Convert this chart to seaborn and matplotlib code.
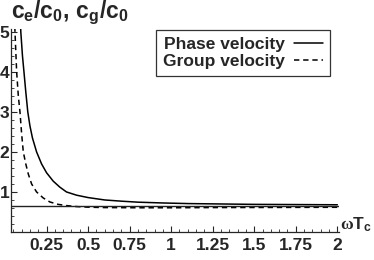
import numpy as np
import pandas as pd
import matplotlib
matplotlib.use('Agg')
import matplotlib.pyplot as plt
from matplotlib.ticker import MultipleLocator
from matplotlib.lines import Line2D
import seaborn as sns

# values
phase_w = [0.085, 0.095, 0.105, 0.114, 0.125, 0.137, 0.15, 0.165, 0.19, 0.22, 0.25, 0.29,
           0.33, 0.37, 0.43, 0.5, 0.6, 0.7, 0.8, 0.95, 1.1, 1.3, 1.5, 1.75, 2.0]
phase_v = [6.2, 5.0, 4.4, 4.0, 3.5, 3.0, 2.65, 2.35, 2.0, 1.7, 1.48, 1.27,
           1.12, 1.0, 0.92, 0.86, 0.8, 0.77, 0.745, 0.725, 0.71, 0.70, 0.69, 0.685, 0.68]
group_w = [0.052, 0.06, 0.07, 0.08, 0.09, 0.1, 0.11, 0.125, 0.14, 0.16, 0.19, 0.23,
           0.27, 0.32, 0.37, 0.43, 0.5, 0.6, 0.8, 1.0, 1.25, 1.5, 1.75, 2.0]
group_v = [6.2, 5.0, 4.0, 3.4, 3.0, 2.45, 2.0, 1.7, 1.45, 1.2, 1.0, 0.85,
           0.75, 0.69, 0.66, 0.635, 0.62, 0.61, 0.605, 0.605, 0.61, 0.612, 0.615, 0.617]
asymptote = 0.66
x_ticks = [0.25, 0.5, 0.75, 1, 1.25, 1.5, 1.75, 2]
x_tick_labels = ['0.25', '0.5', '0.75', '1', '1.25', '1.5', '1.75', '2']
y_ticks = [1, 2, 3, 4, 5]

df = pd.concat([
    pd.DataFrame({'w': phase_w, 'v': phase_v, 'kind': 'Phase velocity'}),
    pd.DataFrame({'w': group_w, 'v': group_v, 'kind': 'Group velocity'}),
])

sns.set_style('ticks')
plt.rcParams['font.family'] = ['Liberation Sans', 'DejaVu Sans']
plt.rcParams['font.weight'] = 'bold'
plt.rcParams['mathtext.fontset'] = 'custom'
plt.rcParams['mathtext.bf'] = 'Liberation Sans:bold'
plt.rcParams['mathtext.rm'] = 'Liberation Serif'
plt.rcParams['mathtext.it'] = 'Liberation Serif'

fig = plt.figure(figsize=(3.74, 2.60), dpi=100)
ax = fig.add_axes([11 / 374, 28 / 260, 328 / 374, 203 / 260])

sns.lineplot(data=df, x='w', y='v', style='kind', color='black', lw=1.1,
             dashes={'Phase velocity': '', 'Group velocity': (3.5, 2.5)},
             ax=ax, legend=False, estimator=None, sort=False)
ax.axhline(asymptote, color='#222222', lw=1.0)

ax.set_xlim(0.036, 2.01)
ax.set_ylim(0, 5.07)
for s in ['top', 'right']:
    ax.spines[s].set_visible(False)
for s in ['left', 'bottom']:
    ax.spines[s].set_linewidth(0.9)
ax.set_xticks(x_ticks)
ax.set_xticklabels(x_tick_labels)
ax.set_yticks(y_ticks)
ax.xaxis.set_minor_locator(MultipleLocator(0.05))
ax.yaxis.set_minor_locator(MultipleLocator(0.2))
ax.tick_params(which='major', direction='in', length=4, width=0.8, labelsize=12.5, pad=4)
ax.tick_params(which='minor', direction='in', length=2, width=0.6)
ax.tick_params(axis='y', which='major', pad=1)
for lab in ax.get_xticklabels() + ax.get_yticklabels():
    lab.set_fontweight('bold')
ax.set_xlabel('')
ax.set_ylabel('')

fig.text(11 / 374, 1 - 13 / 260, r'$\mathbf{c_e/c_0,\, c_g/c_0}$', fontsize=16.5,
         ha='left', va='center')
fig.text(372 / 374, 1 - 225 / 260, r'$\omega\mathbf{T_c}$', fontsize=12.5,
         ha='right', va='center')

handles = [Line2D([], [], color='black', lw=1.1),
           Line2D([], [], color='black', lw=1.1, dashes=(3.5, 2.5))]
leg = fig.legend(handles, ['Phase velocity', 'Group velocity'], loc='upper right',
                 bbox_to_anchor=(330 / 374, 1 - 30 / 260), markerfirst=False,
                 frameon=True, fancybox=False, edgecolor='#333333', framealpha=1,
                 prop={'size': 12.5, 'weight': 'bold'}, handlelength=1.7,
                 labelspacing=0.12, borderpad=0.4, handletextpad=0.5, borderaxespad=0)
leg.get_frame().set_linewidth(0.9)

fig.savefig('out.png', dpi=100)
